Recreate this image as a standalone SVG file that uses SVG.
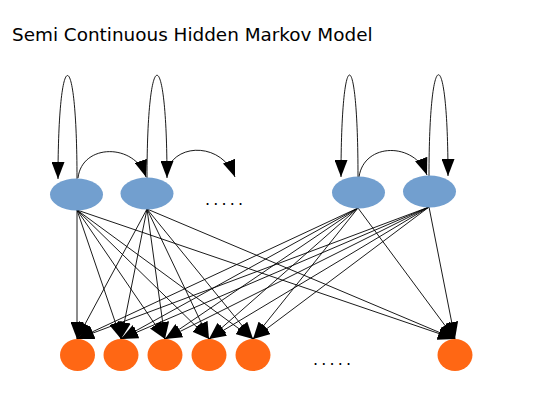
<svg xmlns="http://www.w3.org/2000/svg" width="541" height="401" viewBox="0 0 541 401">
<defs>
<marker id="ah" viewBox="0 0 17 13" refX="17" refY="6.5" markerWidth="17" markerHeight="13" markerUnits="userSpaceOnUse" orient="auto">
<path d="M0,0 L17,6.5 L0,13 Z" fill="#000"/>
</marker>
</defs>
<style>
.st{fill:#729fcf;}
.ob{fill:#ff6714;}
.e{fill:none;stroke:#000;stroke-width:0.9;marker-end:url(#ah);}
.t{font-family:"DejaVu Sans",sans-serif;fill:#000;}
</style>
<rect width="541" height="401" fill="#fff"/>
<text class="t" x="12" y="41" font-size="18.4">Semi Continuous Hidden Markov Model</text>
<g id="connectors">
<path class="e" d="M77,179 C77,41 58,41 58,179"/>
<path class="e" d="M147,178 C147,41 167,41 167,178"/>
<path class="e" d="M358,177 C358,41 341,41 341,177"/>
<path class="e" d="M429,176 C429,41 448,41 448,176"/>
<path class="e" d="M78,178 C82,143 135,143 146,177"/>
<path class="e" d="M168,168 C178,143 222,143 235,177"/>
<path class="e" d="M359,177 C364,142 415,142 427,175"/>
<path class="e" d="M77,210 L77,339"/>
<path class="e" d="M77,210 L121,339"/>
<path class="e" d="M77,210 L165,339"/>
<path class="e" d="M77,210 L209,339"/>
<path class="e" d="M77,210 L253,339"/>
<path class="e" d="M77,210 L455,339"/>
<path class="e" d="M147,209 L77,339"/>
<path class="e" d="M147,209 L121,339"/>
<path class="e" d="M147,209 L165,339"/>
<path class="e" d="M147,209 L209,339"/>
<path class="e" d="M147,209 L253,339"/>
<path class="e" d="M147,209 L455,339"/>
<path class="e" d="M358,208 L77,339"/>
<path class="e" d="M358,208 L121,339"/>
<path class="e" d="M358,208 L165,339"/>
<path class="e" d="M358,208 L209,339"/>
<path class="e" d="M358,208 L253,339"/>
<path class="e" d="M358,208 L455,339"/>
<path class="e" d="M429,207 L77,339"/>
<path class="e" d="M429,207 L121,339"/>
<path class="e" d="M429,207 L165,339"/>
<path class="e" d="M429,207 L209,339"/>
<path class="e" d="M429,207 L253,339"/>
<path class="e" d="M429,207 L455,339"/>
</g>
<g id="s1"><ellipse class="st" cx="76.5" cy="194.5" rx="26.5" ry="16"/></g>
<g id="s2"><ellipse class="st" cx="147" cy="193.5" rx="26.5" ry="16"/></g>
<g id="s3"><ellipse class="st" cx="358.5" cy="192.5" rx="26.5" ry="16"/></g>
<g id="s4"><ellipse class="st" cx="429.5" cy="191.5" rx="26.5" ry="16"/></g>
<g id="o1"><ellipse class="ob" cx="77.5" cy="355" rx="17.5" ry="16"/></g>
<g id="o2"><ellipse class="ob" cx="121" cy="355" rx="17.5" ry="16"/></g>
<g id="o3"><ellipse class="ob" cx="165" cy="355" rx="17.5" ry="16"/></g>
<g id="o4"><ellipse class="ob" cx="209" cy="355" rx="17.5" ry="16"/></g>
<g id="o5"><ellipse class="ob" cx="253" cy="355" rx="17.5" ry="16"/></g>
<g id="o6"><ellipse class="ob" cx="455" cy="355" rx="17.5" ry="16"/></g>
<text class="t" x="205" y="205" font-size="16" textLength="38" lengthAdjust="spacing">.....</text>
<text class="t" x="313" y="365" font-size="16" textLength="38" lengthAdjust="spacing">.....</text>
</svg>
